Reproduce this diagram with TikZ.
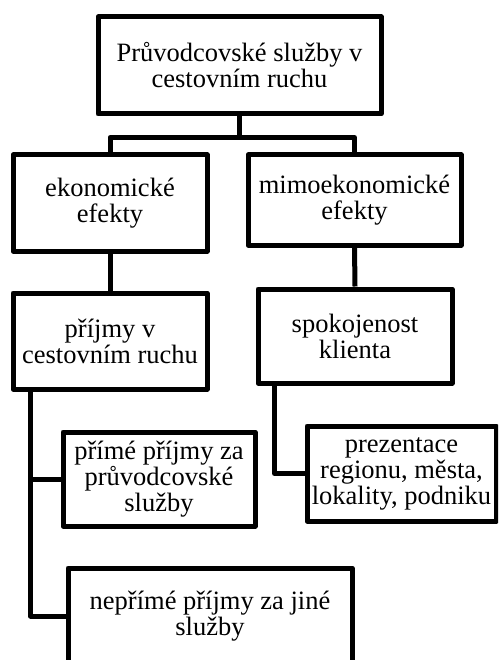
\documentclass[tikz,border=0pt]{standalone}
\usepackage{fontspec}
\setmainfont{Liberation Serif}
\usepackage{tikz}
\usetikzlibrary{positioning}

\begin{document}
\begin{tikzpicture}[x=1pt, y=-1pt,
    box/.style={draw, line width=5pt, line join=round, align=center, inner sep=0pt,
      font=\fontsize{26.5}{26}\selectfont},
    link/.style={line width=5pt, line join=round}]
  \clip (0,0) rectangle (498,660);

  % Boxes
  \node[box, minimum width=283, minimum height=97] (sluzby) at (239.5, 65.5)
    {Průvodcovské služby v\\cestovním ruchu};
  \node[box, minimum width=194, minimum height=96] (ekon) at (110, 203)
    {ekonomické\\efekty};
  \node[box, minimum width=213, minimum height=90] (mimo) at (354.5, 200)
    {mimoekonomické\\efekty};
  \node[box, minimum width=194, minimum height=96] (prijmy) at (110, 341)
    {příjmy v\\cestovním ruchu};
  \node[box, minimum width=194, minimum height=94] (spokoj) at (355, 336)
    {spokojenost\\klienta};
  \node[box, minimum width=192, minimum height=94] (prime) at (159, 479)
    {přímé příjmy za\\průvodcovské\\služby};
  \node[box, minimum width=189, minimum height=95] (prezent) at (401.5, 473.5)
    {prezentace\\regionu, města,\\lokality, podniku};
  \node[box, minimum width=284, minimum height=96] (neprime) at (210, 616)
    {nepřímé příjmy za jiné\\služby};

  % Connectors
  \draw[link] (sluzby.south) -- ++(0,21) coordinate (split);
  \draw[link] (split) -| (ekon.north);
  \draw[link] (split) -| (mimo.north);
  \draw[link] (ekon.south) -- (prijmy.north);
  \draw[link] (mimo.south) -- (spokoj.north);
  \draw[link] ([xshift=20pt]prijmy.south west) |- (prime.west);
  \draw[link] ([xshift=20pt]prijmy.south west) |- (neprime.west);
  \draw[link] ([xshift=19pt]spokoj.south west) |- (prezent.west);
\end{tikzpicture}
\end{document}
